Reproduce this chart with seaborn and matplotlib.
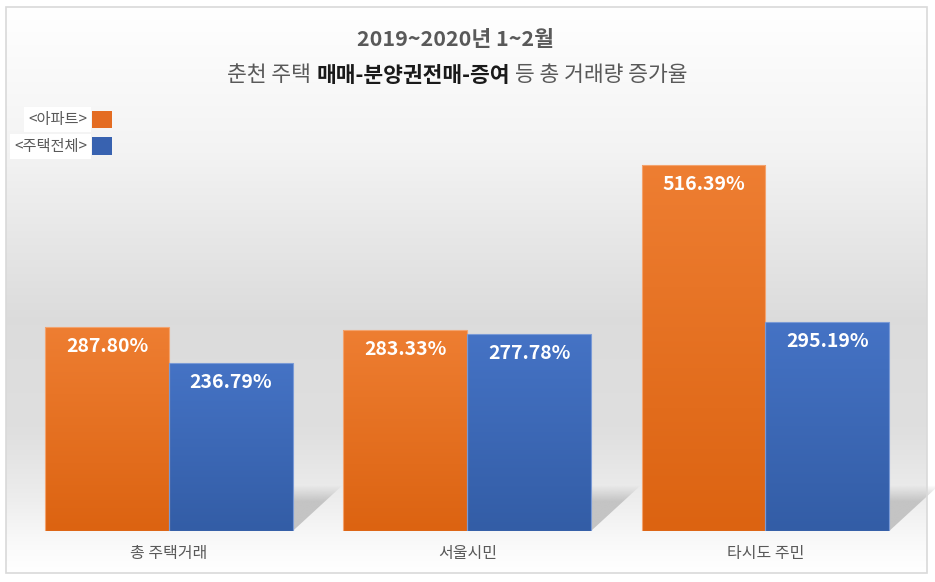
"""
Chuncheon housing transactions: Jan-Feb 2019~2020 growth rate, apartments vs all housing.
Grouped bar chart with Excel-style gradient fill, floor shadows and in-bar labels.
"""

import matplotlib.pyplot as plt
import numpy as np
import pandas as pd
import seaborn as sns
from matplotlib.colors import to_rgb
from matplotlib.patches import Patch, Polygon, Rectangle

# -----------------------------------------------------------------------------
# Data
# -----------------------------------------------------------------------------
categories = ["총 주택거래", "서울시민", "타시도 주민"]
series_names = ["<아파트>", "<주택전체>"]
apt_rate = [287.80, 283.33, 516.39]
house_rate = [236.79, 277.78, 295.19]

title_line1 = "2019~2020년 1~2월"
title_line2 = [("춘천 주택 ", "normal", "#595959"),
               ("매매-분양권전매-증여", "bold", "#1a1a1a"),
               (" 등 총 거래량 증가율", "normal", "#595959")]

# -----------------------------------------------------------------------------
# Style
# -----------------------------------------------------------------------------
W, H = 935, 582
FONT = ["Noto Sans CJK KR", "DejaVu Sans"]
ORANGE = "#ED7D31"
BLUE = "#4472C4"
GRADS = {  # top colour, bottom colour, edge colour
    ORANGE: ("#EE7E32", "#DC6311", "#F3A36E"),
    BLUE: ("#4573C5", "#335DA6", "#7A9AD6"),
}
GRAY_TEXT = "#595959"

sns.set_theme(style="white")
plt.rcParams["font.family"] = FONT

df = pd.DataFrame({
    "category": categories * 2,
    "series": [series_names[0]] * len(categories) + [series_names[1]] * len(categories),
    "rate": apt_rate + house_rate,
})

fig = plt.figure(figsize=(W / 100, H / 100), dpi=100)
fig.patch.set_facecolor("white")

# background panel in pixel coordinates (y downwards)
bg = fig.add_axes([0, 0, 1, 1], zorder=-10)
bg.set_xlim(0, W)
bg.set_ylim(H, 0)
bg.axis("off")
frame_x0, frame_x1, frame_y0, frame_y1 = 6, 927, 7, 573
stops = [(0.0, 1.0), (0.25, 0.955), (0.55, 0.862), (0.75, 0.875),
         (0.87, 0.93), (0.95, 0.98), (1.0, 1.0)]
t = np.linspace(0, 1, 400)
g = np.interp(t, [s[0] for s in stops], [s[1] for s in stops])
bg.imshow(np.repeat(g[:, None, None], 3, axis=2), extent=(frame_x0, frame_x1, frame_y1, frame_y0),
          aspect="auto", interpolation="bilinear", zorder=0)
bg.add_patch(Rectangle((frame_x0, frame_y0), frame_x1 - frame_x0, frame_y1 - frame_y0,
                       fill=False, edgecolor="#D9D9D9", linewidth=1.2, zorder=1))

# main axes, placed so that bars land where the reference has them
ax = fig.add_axes([19.9 / W, 51 / H, 894.7 / W, 425.3 / H])
sns.barplot(data=df, x="category", y="rate", hue="series", palette=[ORANGE, BLUE],
            width=0.83, gap=0, ax=ax, legend=False, saturation=1)
ax.set_xlim(-0.5, 2.5)
ax.set_ylim(0, 600)
ax.patch.set_alpha(0)
sns.despine(ax=ax, left=True, bottom=True)
ax.set_yticks([])
ax.set_xlabel("")
ax.set_ylabel("")
ax.tick_params(axis="x", length=0, pad=10, labelsize=11.5, labelcolor=GRAY_TEXT)

# gradient fill inside every bar
bars = list(ax.patches)
for bar in bars:
    key = ORANGE if np.allclose(bar.get_facecolor()[:3], to_rgb(ORANGE), atol=0.02) else BLUE
    top, bottom, edge = GRADS[key]
    grad = np.linspace(to_rgb(top), to_rgb(bottom), 256)[:, None, :]
    x, w, h = bar.get_x(), bar.get_width(), bar.get_height()
    img = ax.imshow(grad, extent=(x, x + w, 0, h), origin="upper", aspect="auto",
                    interpolation="bilinear", zorder=1.5)
    img.set_clip_path(bar)
    bar.set_facecolor("none")
    bar.set_edgecolor(edge)
    bar.set_linewidth(0.8)
    bar.set_zorder(2)
    ax.annotate(f"{h:.2f}%", (x + w / 2, h), xytext=(0, -14), textcoords="offset points",
                ha="center", va="center", color="white", fontsize=14, fontweight="bold",
                zorder=5)
ax.set_xlim(-0.5, 2.5)
ax.set_ylim(0, 600)

# floor shadow behind each group, cast up and to the right
n = len(categories)
dx, dy = 50, 46
shade = np.zeros((100, 1, 4))
shade[..., :3] = to_rgb("#C2C2C2")
shade[:, 0, 3] = np.clip(np.linspace(0, 1, 100) / 0.35, 0, 1) * 0.95
for i in range(n):
    left, right = bars[i], bars[i + n]
    (px0, py0) = ax.transData.transform((left.get_x(), 0))
    (px1, _) = ax.transData.transform((right.get_x() + right.get_width(), 0))
    by = H - py0
    poly = Polygon([(px0, by), (px1, by), (px1 + dx, by - dy), (px0 + dx, by - dy)],
                   closed=True, facecolor="none", edgecolor="none")
    bg.add_patch(poly)
    im = bg.imshow(shade, extent=(px0, px1 + dx, by, by - dy), aspect="auto",
                   interpolation="bilinear", zorder=0.5)
    im.set_clip_path(poly)
bg.set_xlim(0, W)
bg.set_ylim(H, 0)

# legend: label then swatch, white boxes behind the labels
handles = [Patch(facecolor="#E46C22", edgecolor="none"),
           Patch(facecolor="#3862B0", edgecolor="none")]
leg = fig.legend(handles, series_names, loc="upper right",
                 bbox_to_anchor=(120 / W, (H - 103) / H),
                 markerfirst=False, frameon=False, fontsize=11, labelcolor=GRAY_TEXT,
                 handlelength=1.35, handleheight=1.35, handletextpad=0.3, labelspacing=0.6,
                 borderpad=0)
for txt in leg.get_texts():
    txt.set_bbox(dict(facecolor="white", edgecolor="none", pad=3))

# title: bold first line, mixed-weight second line
fig.text(0.487, 1 - 40 / H, title_line1, ha="center", va="center", fontsize=15.5,
         fontweight="bold", color=GRAY_TEXT)
renderer = fig.canvas.get_renderer()
pieces = []
for txt, weight, color in title_line2:
    pieces.append(fig.text(0, 1 - 75 / H, txt, ha="left", va="center", fontsize=15.5,
                           fontweight=weight, color=color))
widths = [p.get_window_extent(renderer).width for p in pieces]
x_px = 0.489 * W - sum(widths) / 2
for p, w in zip(pieces, widths):
    p.set_x(x_px / W)
    x_px += w

fig.savefig("out.png", dpi=100)
